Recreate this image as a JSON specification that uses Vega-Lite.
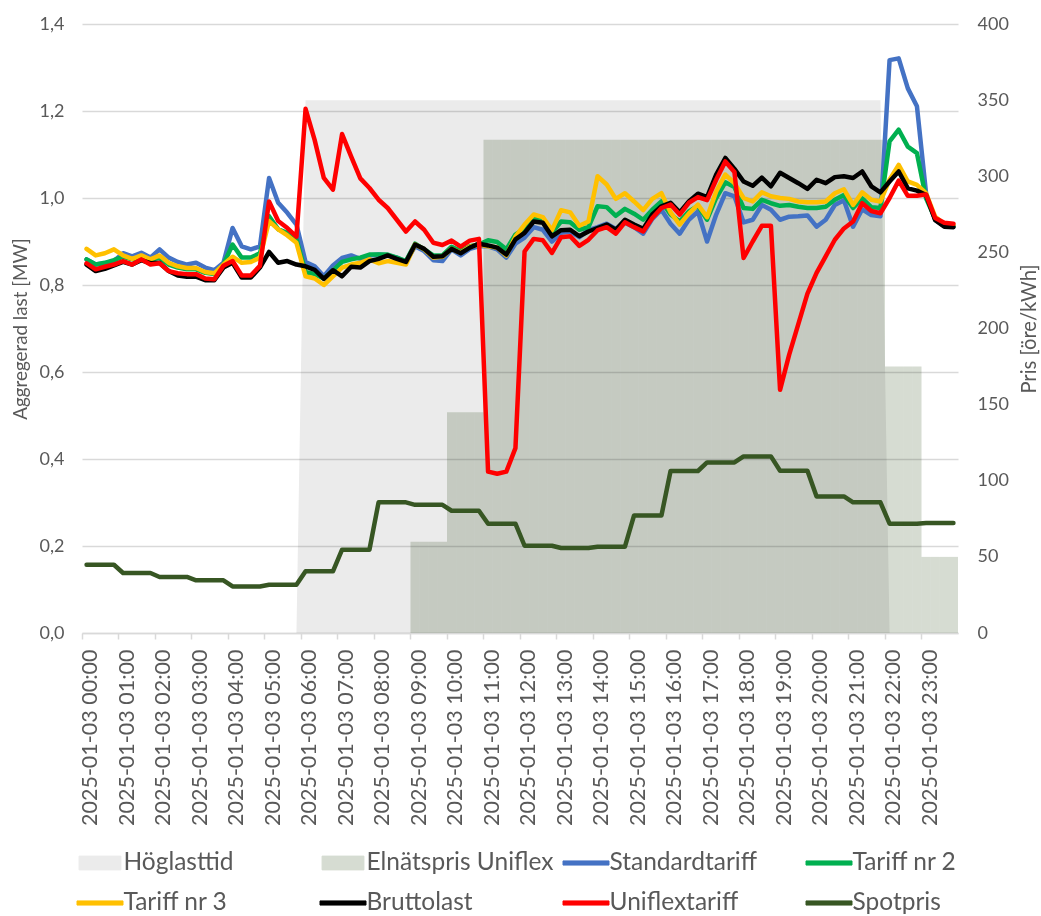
{
"$schema": "https://vega.github.io/schema/vega-lite/v6.json",
"width": 876, "height": 609,
"autosize": {"type": "none"},
"padding": {"left": 82, "top": 24, "right": 83, "bottom": 283},
"background": "#ffffff",
"config": {"font": "Lato", "view": {"stroke": null}},
"data": {"values": [
{"t":"00:00","Standardtariff":0.859,"Tariff nr 2":0.859,"Tariff nr 3":0.883,"Bruttolast":0.847,"Uniflextariff":0.850,"Höglasttid":0,"Elnätspris Uniflex":0,"Spotpris":44.8},
{"t":"00:15","Standardtariff":0.847,"Tariff nr 2":0.847,"Tariff nr 3":0.868,"Bruttolast":0.832,"Uniflextariff":0.836,"Höglasttid":0,"Elnätspris Uniflex":0,"Spotpris":44.8},
{"t":"00:30","Standardtariff":0.850,"Tariff nr 2":0.851,"Tariff nr 3":0.873,"Bruttolast":0.837,"Uniflextariff":0.842,"Höglasttid":0,"Elnätspris Uniflex":0,"Spotpris":44.8},
{"t":"00:45","Standardtariff":0.855,"Tariff nr 2":0.857,"Tariff nr 3":0.882,"Bruttolast":0.845,"Uniflextariff":0.847,"Höglasttid":0,"Elnätspris Uniflex":0,"Spotpris":44.8},
{"t":"01:00","Standardtariff":0.873,"Tariff nr 2":0.865,"Tariff nr 3":0.868,"Bruttolast":0.853,"Uniflextariff":0.855,"Höglasttid":0,"Elnätspris Uniflex":0,"Spotpris":39.4},
{"t":"01:15","Standardtariff":0.866,"Tariff nr 2":0.859,"Tariff nr 3":0.860,"Bruttolast":0.847,"Uniflextariff":0.847,"Höglasttid":0,"Elnätspris Uniflex":0,"Spotpris":39.4},
{"t":"01:30","Standardtariff":0.874,"Tariff nr 2":0.866,"Tariff nr 3":0.868,"Bruttolast":0.857,"Uniflextariff":0.859,"Höglasttid":0,"Elnätspris Uniflex":0,"Spotpris":39.4},
{"t":"01:45","Standardtariff":0.863,"Tariff nr 2":0.857,"Tariff nr 3":0.859,"Bruttolast":0.850,"Uniflextariff":0.847,"Höglasttid":0,"Elnätspris Uniflex":0,"Spotpris":39.4},
{"t":"02:00","Standardtariff":0.882,"Tariff nr 2":0.863,"Tariff nr 3":0.868,"Bruttolast":0.851,"Uniflextariff":0.850,"Höglasttid":0,"Elnätspris Uniflex":0,"Spotpris":36.8},
{"t":"02:15","Standardtariff":0.863,"Tariff nr 2":0.847,"Tariff nr 3":0.851,"Bruttolast":0.832,"Uniflextariff":0.832,"Höglasttid":0,"Elnätspris Uniflex":0,"Spotpris":36.8},
{"t":"02:30","Standardtariff":0.853,"Tariff nr 2":0.840,"Tariff nr 3":0.843,"Bruttolast":0.822,"Uniflextariff":0.827,"Höglasttid":0,"Elnätspris Uniflex":0,"Spotpris":36.8},
{"t":"02:45","Standardtariff":0.847,"Tariff nr 2":0.836,"Tariff nr 3":0.839,"Bruttolast":0.819,"Uniflextariff":0.825,"Höglasttid":0,"Elnätspris Uniflex":0,"Spotpris":36.8},
{"t":"03:00","Standardtariff":0.851,"Tariff nr 2":0.836,"Tariff nr 3":0.839,"Bruttolast":0.819,"Uniflextariff":0.825,"Höglasttid":0,"Elnätspris Uniflex":0,"Spotpris":34.6},
{"t":"03:15","Standardtariff":0.840,"Tariff nr 2":0.828,"Tariff nr 3":0.830,"Bruttolast":0.811,"Uniflextariff":0.815,"Höglasttid":0,"Elnätspris Uniflex":0,"Spotpris":34.6},
{"t":"03:30","Standardtariff":0.834,"Tariff nr 2":0.825,"Tariff nr 3":0.827,"Bruttolast":0.811,"Uniflextariff":0.813,"Höglasttid":0,"Elnätspris Uniflex":0,"Spotpris":34.6},
{"t":"03:45","Standardtariff":0.851,"Tariff nr 2":0.847,"Tariff nr 3":0.847,"Bruttolast":0.840,"Uniflextariff":0.844,"Höglasttid":0,"Elnätspris Uniflex":0,"Spotpris":34.6},
{"t":"04:00","Standardtariff":0.931,"Tariff nr 2":0.893,"Tariff nr 3":0.865,"Bruttolast":0.851,"Uniflextariff":0.855,"Höglasttid":0,"Elnätspris Uniflex":0,"Spotpris":30.6},
{"t":"04:15","Standardtariff":0.889,"Tariff nr 2":0.863,"Tariff nr 3":0.851,"Bruttolast":0.817,"Uniflextariff":0.822,"Höglasttid":0,"Elnätspris Uniflex":0,"Spotpris":30.6},
{"t":"04:30","Standardtariff":0.882,"Tariff nr 2":0.863,"Tariff nr 3":0.853,"Bruttolast":0.817,"Uniflextariff":0.822,"Höglasttid":0,"Elnätspris Uniflex":0,"Spotpris":30.6},
{"t":"04:45","Standardtariff":0.889,"Tariff nr 2":0.873,"Tariff nr 3":0.863,"Bruttolast":0.840,"Uniflextariff":0.844,"Höglasttid":0,"Elnätspris Uniflex":0,"Spotpris":30.6},
{"t":"05:00","Standardtariff":1.046,"Tariff nr 2":0.958,"Tariff nr 3":0.947,"Bruttolast":0.876,"Uniflextariff":0.992,"Höglasttid":0,"Elnätspris Uniflex":0,"Spotpris":31.7},
{"t":"05:15","Standardtariff":0.989,"Tariff nr 2":0.928,"Tariff nr 3":0.928,"Bruttolast":0.851,"Uniflextariff":0.947,"Höglasttid":0,"Elnätspris Uniflex":0,"Spotpris":31.7},
{"t":"05:30","Standardtariff":0.966,"Tariff nr 2":0.920,"Tariff nr 3":0.914,"Bruttolast":0.855,"Uniflextariff":0.931,"Höglasttid":0,"Elnätspris Uniflex":0,"Spotpris":31.7},
{"t":"05:45","Standardtariff":0.939,"Tariff nr 2":0.905,"Tariff nr 3":0.897,"Bruttolast":0.847,"Uniflextariff":0.911,"Höglasttid":0,"Elnätspris Uniflex":0,"Spotpris":31.7},
{"t":"06:00","Standardtariff":0.853,"Tariff nr 2":0.830,"Tariff nr 3":0.820,"Bruttolast":0.843,"Uniflextariff":1.205,"Höglasttid":350,"Elnätspris Uniflex":0,"Spotpris":40.5},
{"t":"06:15","Standardtariff":0.843,"Tariff nr 2":0.825,"Tariff nr 3":0.815,"Bruttolast":0.835,"Uniflextariff":1.133,"Höglasttid":350,"Elnätspris Uniflex":0,"Spotpris":40.5},
{"t":"06:30","Standardtariff":0.820,"Tariff nr 2":0.815,"Tariff nr 3":0.800,"Bruttolast":0.814,"Uniflextariff":1.046,"Höglasttid":350,"Elnätspris Uniflex":0,"Spotpris":40.5},
{"t":"06:45","Standardtariff":0.845,"Tariff nr 2":0.833,"Tariff nr 3":0.820,"Bruttolast":0.834,"Uniflextariff":1.019,"Höglasttid":350,"Elnätspris Uniflex":0,"Spotpris":40.5},
{"t":"07:00","Standardtariff":0.862,"Tariff nr 2":0.853,"Tariff nr 3":0.840,"Bruttolast":0.820,"Uniflextariff":1.147,"Höglasttid":350,"Elnätspris Uniflex":0,"Spotpris":54.7},
{"t":"07:15","Standardtariff":0.868,"Tariff nr 2":0.859,"Tariff nr 3":0.847,"Bruttolast":0.842,"Uniflextariff":1.095,"Höglasttid":350,"Elnätspris Uniflex":0,"Spotpris":54.7},
{"t":"07:30","Standardtariff":0.860,"Tariff nr 2":0.863,"Tariff nr 3":0.851,"Bruttolast":0.840,"Uniflextariff":1.045,"Höglasttid":350,"Elnätspris Uniflex":0,"Spotpris":54.7},
{"t":"07:45","Standardtariff":0.868,"Tariff nr 2":0.870,"Tariff nr 3":0.859,"Bruttolast":0.855,"Uniflextariff":1.023,"Höglasttid":350,"Elnätspris Uniflex":0,"Spotpris":54.7},
{"t":"08:00","Standardtariff":0.870,"Tariff nr 2":0.870,"Tariff nr 3":0.850,"Bruttolast":0.860,"Uniflextariff":0.996,"Höglasttid":350,"Elnätspris Uniflex":0,"Spotpris":85.8},
{"t":"08:15","Standardtariff":0.868,"Tariff nr 2":0.870,"Tariff nr 3":0.855,"Bruttolast":0.868,"Uniflextariff":0.977,"Höglasttid":350,"Elnätspris Uniflex":0,"Spotpris":85.8},
{"t":"08:30","Standardtariff":0.863,"Tariff nr 2":0.863,"Tariff nr 3":0.851,"Bruttolast":0.860,"Uniflextariff":0.950,"Höglasttid":350,"Elnätspris Uniflex":0,"Spotpris":85.8},
{"t":"08:45","Standardtariff":0.853,"Tariff nr 2":0.855,"Tariff nr 3":0.847,"Bruttolast":0.853,"Uniflextariff":0.923,"Höglasttid":350,"Elnätspris Uniflex":0,"Spotpris":85.8},
{"t":"09:00","Standardtariff":0.889,"Tariff nr 2":0.895,"Tariff nr 3":0.893,"Bruttolast":0.893,"Uniflextariff":0.946,"Höglasttid":350,"Elnätspris Uniflex":60,"Spotpris":84.2},
{"t":"09:15","Standardtariff":0.878,"Tariff nr 2":0.882,"Tariff nr 3":0.882,"Bruttolast":0.883,"Uniflextariff":0.927,"Höglasttid":350,"Elnätspris Uniflex":60,"Spotpris":84.2},
{"t":"09:30","Standardtariff":0.857,"Tariff nr 2":0.868,"Tariff nr 3":0.863,"Bruttolast":0.865,"Uniflextariff":0.897,"Höglasttid":350,"Elnätspris Uniflex":60,"Spotpris":84.2},
{"t":"09:45","Standardtariff":0.855,"Tariff nr 2":0.868,"Tariff nr 3":0.865,"Bruttolast":0.866,"Uniflextariff":0.892,"Höglasttid":350,"Elnätspris Uniflex":60,"Spotpris":84.2},
{"t":"10:00","Standardtariff":0.882,"Tariff nr 2":0.888,"Tariff nr 3":0.883,"Bruttolast":0.883,"Uniflextariff":0.902,"Höglasttid":350,"Elnätspris Uniflex":145,"Spotpris":80.3},
{"t":"10:15","Standardtariff":0.868,"Tariff nr 2":0.878,"Tariff nr 3":0.874,"Bruttolast":0.873,"Uniflextariff":0.888,"Höglasttid":350,"Elnätspris Uniflex":145,"Spotpris":80.3},
{"t":"10:30","Standardtariff":0.883,"Tariff nr 2":0.889,"Tariff nr 3":0.888,"Bruttolast":0.886,"Uniflextariff":0.902,"Höglasttid":350,"Elnätspris Uniflex":145,"Spotpris":80.3},
{"t":"10:45","Standardtariff":0.889,"Tariff nr 2":0.893,"Tariff nr 3":0.893,"Bruttolast":0.895,"Uniflextariff":0.906,"Höglasttid":350,"Elnätspris Uniflex":145,"Spotpris":80.3},
{"t":"11:00","Standardtariff":0.889,"Tariff nr 2":0.903,"Tariff nr 3":0.889,"Bruttolast":0.891,"Uniflextariff":0.371,"Höglasttid":350,"Elnätspris Uniflex":324,"Spotpris":71.8},
{"t":"11:15","Standardtariff":0.882,"Tariff nr 2":0.899,"Tariff nr 3":0.886,"Bruttolast":0.886,"Uniflextariff":0.366,"Höglasttid":350,"Elnätspris Uniflex":324,"Spotpris":71.8},
{"t":"11:30","Standardtariff":0.863,"Tariff nr 2":0.882,"Tariff nr 3":0.868,"Bruttolast":0.870,"Uniflextariff":0.371,"Höglasttid":350,"Elnätspris Uniflex":324,"Spotpris":71.8},
{"t":"11:45","Standardtariff":0.895,"Tariff nr 2":0.916,"Tariff nr 3":0.911,"Bruttolast":0.905,"Uniflextariff":0.425,"Höglasttid":350,"Elnätspris Uniflex":324,"Spotpris":71.8},
{"t":"12:00","Standardtariff":0.909,"Tariff nr 2":0.930,"Tariff nr 3":0.939,"Bruttolast":0.920,"Uniflextariff":0.877,"Höglasttid":350,"Elnätspris Uniflex":324,"Spotpris":57.3},
{"t":"12:15","Standardtariff":0.933,"Tariff nr 2":0.956,"Tariff nr 3":0.962,"Bruttolast":0.946,"Uniflextariff":0.906,"Höglasttid":350,"Elnätspris Uniflex":324,"Spotpris":57.3},
{"t":"12:30","Standardtariff":0.927,"Tariff nr 2":0.950,"Tariff nr 3":0.956,"Bruttolast":0.943,"Uniflextariff":0.903,"Höglasttid":350,"Elnätspris Uniflex":324,"Spotpris":57.3},
{"t":"12:45","Standardtariff":0.900,"Tariff nr 2":0.920,"Tariff nr 3":0.926,"Bruttolast":0.912,"Uniflextariff":0.874,"Höglasttid":350,"Elnätspris Uniflex":324,"Spotpris":57.3},
{"t":"13:00","Standardtariff":0.920,"Tariff nr 2":0.946,"Tariff nr 3":0.972,"Bruttolast":0.926,"Uniflextariff":0.910,"Höglasttid":350,"Elnätspris Uniflex":324,"Spotpris":55.8},
{"t":"13:15","Standardtariff":0.923,"Tariff nr 2":0.944,"Tariff nr 3":0.967,"Bruttolast":0.927,"Uniflextariff":0.912,"Höglasttid":350,"Elnätspris Uniflex":324,"Spotpris":55.8},
{"t":"13:30","Standardtariff":0.910,"Tariff nr 2":0.927,"Tariff nr 3":0.936,"Bruttolast":0.912,"Uniflextariff":0.890,"Höglasttid":350,"Elnätspris Uniflex":324,"Spotpris":55.8},
{"t":"13:45","Standardtariff":0.926,"Tariff nr 2":0.933,"Tariff nr 3":0.946,"Bruttolast":0.923,"Uniflextariff":0.904,"Höglasttid":350,"Elnätspris Uniflex":324,"Spotpris":55.8},
{"t":"14:00","Standardtariff":0.933,"Tariff nr 2":0.981,"Tariff nr 3":1.050,"Bruttolast":0.931,"Uniflextariff":0.926,"Höglasttid":350,"Elnätspris Uniflex":324,"Spotpris":56.7},
{"t":"14:15","Standardtariff":0.941,"Tariff nr 2":0.979,"Tariff nr 3":1.031,"Bruttolast":0.939,"Uniflextariff":0.933,"Höglasttid":350,"Elnätspris Uniflex":324,"Spotpris":56.7},
{"t":"14:30","Standardtariff":0.929,"Tariff nr 2":0.959,"Tariff nr 3":0.998,"Bruttolast":0.927,"Uniflextariff":0.918,"Höglasttid":350,"Elnätspris Uniflex":324,"Spotpris":56.7},
{"t":"14:45","Standardtariff":0.943,"Tariff nr 2":0.975,"Tariff nr 3":1.011,"Bruttolast":0.950,"Uniflextariff":0.944,"Höglasttid":350,"Elnätspris Uniflex":324,"Spotpris":56.7},
{"t":"15:00","Standardtariff":0.933,"Tariff nr 2":0.964,"Tariff nr 3":0.992,"Bruttolast":0.939,"Uniflextariff":0.933,"Höglasttid":350,"Elnätspris Uniflex":324,"Spotpris":77.2},
{"t":"15:15","Standardtariff":0.918,"Tariff nr 2":0.950,"Tariff nr 3":0.972,"Bruttolast":0.929,"Uniflextariff":0.923,"Höglasttid":350,"Elnätspris Uniflex":324,"Spotpris":77.2},
{"t":"15:30","Standardtariff":0.952,"Tariff nr 2":0.973,"Tariff nr 3":0.998,"Bruttolast":0.962,"Uniflextariff":0.954,"Höglasttid":350,"Elnätspris Uniflex":324,"Spotpris":77.2},
{"t":"15:45","Standardtariff":0.973,"Tariff nr 2":0.992,"Tariff nr 3":1.011,"Bruttolast":0.981,"Uniflextariff":0.977,"Höglasttid":350,"Elnätspris Uniflex":324,"Spotpris":77.2},
{"t":"16:00","Standardtariff":0.941,"Tariff nr 2":0.962,"Tariff nr 3":0.967,"Bruttolast":0.989,"Uniflextariff":0.985,"Höglasttid":350,"Elnätspris Uniflex":324,"Spotpris":106.4},
{"t":"16:15","Standardtariff":0.918,"Tariff nr 2":0.946,"Tariff nr 3":0.939,"Bruttolast":0.967,"Uniflextariff":0.962,"Höglasttid":350,"Elnätspris Uniflex":324,"Spotpris":106.4},
{"t":"16:30","Standardtariff":0.950,"Tariff nr 2":0.969,"Tariff nr 3":0.964,"Bruttolast":0.992,"Uniflextariff":0.989,"Höglasttid":350,"Elnätspris Uniflex":324,"Spotpris":106.4},
{"t":"16:45","Standardtariff":0.969,"Tariff nr 2":0.982,"Tariff nr 3":0.985,"Bruttolast":1.010,"Uniflextariff":1.002,"Höglasttid":350,"Elnätspris Uniflex":324,"Spotpris":106.4},
{"t":"17:00","Standardtariff":0.900,"Tariff nr 2":0.950,"Tariff nr 3":0.956,"Bruttolast":1.002,"Uniflextariff":0.995,"Höglasttid":350,"Elnätspris Uniflex":324,"Spotpris":112},
{"t":"17:15","Standardtariff":0.962,"Tariff nr 2":1.000,"Tariff nr 3":1.015,"Bruttolast":1.054,"Uniflextariff":1.042,"Höglasttid":350,"Elnätspris Uniflex":324,"Spotpris":112},
{"t":"17:30","Standardtariff":1.011,"Tariff nr 2":1.036,"Tariff nr 3":1.054,"Bruttolast":1.092,"Uniflextariff":1.084,"Höglasttid":350,"Elnätspris Uniflex":324,"Spotpris":112},
{"t":"17:45","Standardtariff":1.004,"Tariff nr 2":1.025,"Tariff nr 3":1.034,"Bruttolast":1.067,"Uniflextariff":1.060,"Höglasttid":350,"Elnätspris Uniflex":324,"Spotpris":112},
{"t":"18:00","Standardtariff":0.944,"Tariff nr 2":0.977,"Tariff nr 3":1.000,"Bruttolast":1.038,"Uniflextariff":0.862,"Höglasttid":350,"Elnätspris Uniflex":324,"Spotpris":116},
{"t":"18:15","Standardtariff":0.950,"Tariff nr 2":0.975,"Tariff nr 3":0.992,"Bruttolast":1.028,"Uniflextariff":0.900,"Höglasttid":350,"Elnätspris Uniflex":324,"Spotpris":116},
{"t":"18:30","Standardtariff":0.984,"Tariff nr 2":0.996,"Tariff nr 3":1.013,"Bruttolast":1.047,"Uniflextariff":0.936,"Höglasttid":350,"Elnätspris Uniflex":324,"Spotpris":116},
{"t":"18:45","Standardtariff":0.973,"Tariff nr 2":0.988,"Tariff nr 3":1.004,"Bruttolast":1.027,"Uniflextariff":0.936,"Höglasttid":350,"Elnätspris Uniflex":324,"Spotpris":116},
{"t":"19:00","Standardtariff":0.950,"Tariff nr 2":0.982,"Tariff nr 3":1.000,"Bruttolast":1.058,"Uniflextariff":0.559,"Höglasttid":350,"Elnätspris Uniflex":324,"Spotpris":106.6},
{"t":"19:15","Standardtariff":0.957,"Tariff nr 2":0.984,"Tariff nr 3":0.998,"Bruttolast":1.046,"Uniflextariff":0.640,"Höglasttid":350,"Elnätspris Uniflex":324,"Spotpris":106.6},
{"t":"19:30","Standardtariff":0.958,"Tariff nr 2":0.980,"Tariff nr 3":0.992,"Bruttolast":1.034,"Uniflextariff":0.710,"Höglasttid":350,"Elnätspris Uniflex":324,"Spotpris":106.6},
{"t":"19:45","Standardtariff":0.960,"Tariff nr 2":0.977,"Tariff nr 3":0.990,"Bruttolast":1.021,"Uniflextariff":0.780,"Höglasttid":350,"Elnätspris Uniflex":324,"Spotpris":106.6},
{"t":"20:00","Standardtariff":0.934,"Tariff nr 2":0.977,"Tariff nr 3":0.990,"Bruttolast":1.042,"Uniflextariff":0.828,"Höglasttid":350,"Elnätspris Uniflex":324,"Spotpris":89.7},
{"t":"20:15","Standardtariff":0.950,"Tariff nr 2":0.980,"Tariff nr 3":0.992,"Bruttolast":1.034,"Uniflextariff":0.866,"Höglasttid":350,"Elnätspris Uniflex":324,"Spotpris":89.7},
{"t":"20:30","Standardtariff":0.984,"Tariff nr 2":0.996,"Tariff nr 3":1.011,"Bruttolast":1.048,"Uniflextariff":0.904,"Höglasttid":350,"Elnätspris Uniflex":324,"Spotpris":89.7},
{"t":"20:45","Standardtariff":0.995,"Tariff nr 2":1.007,"Tariff nr 3":1.020,"Bruttolast":1.050,"Uniflextariff":0.930,"Höglasttid":350,"Elnätspris Uniflex":324,"Spotpris":89.7},
{"t":"21:00","Standardtariff":0.934,"Tariff nr 2":0.977,"Tariff nr 3":0.984,"Bruttolast":1.046,"Uniflextariff":0.946,"Höglasttid":350,"Elnätspris Uniflex":324,"Spotpris":85.8},
{"t":"21:15","Standardtariff":0.974,"Tariff nr 2":0.999,"Tariff nr 3":1.013,"Bruttolast":1.061,"Uniflextariff":0.988,"Höglasttid":350,"Elnätspris Uniflex":324,"Spotpris":85.8},
{"t":"21:30","Standardtariff":0.961,"Tariff nr 2":0.979,"Tariff nr 3":0.996,"Bruttolast":1.027,"Uniflextariff":0.970,"Höglasttid":350,"Elnätspris Uniflex":324,"Spotpris":85.8},
{"t":"21:45","Standardtariff":0.958,"Tariff nr 2":0.977,"Tariff nr 3":0.992,"Bruttolast":1.013,"Uniflextariff":0.965,"Höglasttid":350,"Elnätspris Uniflex":324,"Spotpris":85.8},
{"t":"22:00","Standardtariff":1.317,"Tariff nr 2":1.130,"Tariff nr 3":1.042,"Bruttolast":1.038,"Uniflextariff":1.000,"Höglasttid":0,"Elnätspris Uniflex":175,"Spotpris":71.8},
{"t":"22:15","Standardtariff":1.321,"Tariff nr 2":1.157,"Tariff nr 3":1.076,"Bruttolast":1.061,"Uniflextariff":1.040,"Höglasttid":0,"Elnätspris Uniflex":175,"Spotpris":71.8},
{"t":"22:30","Standardtariff":1.252,"Tariff nr 2":1.118,"Tariff nr 3":1.038,"Bruttolast":1.022,"Uniflextariff":1.005,"Höglasttid":0,"Elnätspris Uniflex":175,"Spotpris":71.8},
{"t":"22:45","Standardtariff":1.211,"Tariff nr 2":1.103,"Tariff nr 3":1.030,"Bruttolast":1.017,"Uniflextariff":1.005,"Höglasttid":0,"Elnätspris Uniflex":175,"Spotpris":71.8},
{"t":"23:00","Standardtariff":1.011,"Tariff nr 2":0.999,"Tariff nr 3":1.011,"Bruttolast":1.007,"Uniflextariff":1.008,"Höglasttid":0,"Elnätspris Uniflex":50,"Spotpris":72.2},
{"t":"23:15","Standardtariff":0.950,"Tariff nr 2":0.952,"Tariff nr 3":0.957,"Bruttolast":0.949,"Uniflextariff":0.954,"Höglasttid":0,"Elnätspris Uniflex":50,"Spotpris":72.2},
{"t":"23:30","Standardtariff":0.935,"Tariff nr 2":0.936,"Tariff nr 3":0.940,"Bruttolast":0.934,"Uniflextariff":0.943,"Höglasttid":0,"Elnätspris Uniflex":50,"Spotpris":72.2},
{"t":"23:45","Standardtariff":0.934,"Tariff nr 2":0.935,"Tariff nr 3":0.938,"Bruttolast":0.933,"Uniflextariff":0.941,"Höglasttid":0,"Elnätspris Uniflex":50,"Spotpris":72.2}
]},
"encoding": {
  "x": {"field": "t", "type": "ordinal",
    "scale": {"type": "band", "paddingInner": 0, "paddingOuter": 0},
    "axis": {"values": ["00:00","01:00","02:00","03:00","04:00","05:00","06:00","07:00","08:00","09:00","10:00","11:00","12:00","13:00","14:00","15:00","16:00","17:00","18:00","19:00","20:00","21:00","22:00","23:00"],
      "labelExpr": "'2025-01-03 ' + datum.label", "labelAngle": -90, "labelAlign": "right", "labelBaseline": "middle",
      "bandPosition": 0, "labelOffset": 4.56, "tickSize": 6, "tickColor": "#d9d9d9", "tickWidth": 1.5,
      "domainColor": "#d9d9d9", "domainWidth": 1.5, "labelFontSize": 21.5, "labelColor": "#595959", "labelPadding": 10,
      "labelLimit": 400, "labelOverlap": false, "labelBound": false, "labelFlush": false, "grid": false, "title": null}},
  "color": {"field": "key", "type": "nominal",
    "scale": {"domain": ["Höglasttid","Elnätspris Uniflex","Standardtariff","Tariff nr 2","Tariff nr 3","Bruttolast","Uniflextariff","Spotpris"],
              "range": ["#ebebeb","#d6dcd2","#4472c4","#00b050","#ffc000","#000000","#ff0000","#375623"]},
    "legend": {"orient": "none", "legendX": -5.5, "legendY": 815.5, "direction": "horizontal", "columns": 4, "gridAlign": "all", "columnPadding": 7, "rowPadding": 5,
      "symbolSize": 2116, "symbolStrokeWidth": 1, "labelFontSize": 24.5, "labelColor": "#595959", "labelOffset": 0,
      "labelLimit": 400, "title": null, "padding": 0,
      "encode": {"symbols": {"update": {
        "shape": {"signal": "datum.value === 'Höglasttid' || datum.value === 'Elnätspris Uniflex' ? 'M-0.91,-0.3L0.91,-0.3L0.91,0.3L-0.91,0.3Z' : 'M-1,-0.09L1,-0.09L1,0.09L-1,0.09Z'"},
        "fill": {"scale": "color", "field": "value"},
        "fillOpacity": {"value": 1}, "opacity": {"value": 1}}}}}}
},
"layer": [
  {"encoding": {"y": {"field": "value", "type": "quantitative", "stack": null,
      "scale": {"domain": [0, 400], "nice": false},
      "axis": {"orient": "right", "values": [0,50,100,150,200,250,300,350,400], "domain": false, "ticks": false, "grid": false,
        "labelPadding": 19, "labelFontSize": 18, "labelColor": "#595959",
        "title": "Pris [öre/kWh]", "titleAngle": 270, "titleX": 71, "titleBaseline": "middle", "titleAlign": "center",
        "titleFontSize": 20.2, "titleFontWeight": "normal", "titleColor": "#595959"}}},
   "layer": [
     {"transform": [{"fold": ["Höglasttid"]}], "mark": {"type": "area", "blend": "multiply"}},
     {"transform": [{"fold": ["Elnätspris Uniflex"]}], "mark": {"type": "bar", "blend": "multiply"}},
     {"transform": [{"fold": ["Spotpris"]}], "mark": {"type": "line", "strokeWidth": 4.5, "strokeJoin": "round", "strokeCap": "round"}}
   ]},
  {"transform": [{"fold": ["Standardtariff","Tariff nr 2","Tariff nr 3","Bruttolast","Uniflextariff"]}],
   "mark": {"type": "line", "strokeWidth": 4.5, "strokeJoin": "round", "strokeCap": "round"},
   "encoding": {
    "y": {"field": "value", "type": "quantitative",
      "scale": {"domain": [0, 1.4], "nice": false},
      "axis": {"values": [0,0.2,0.4,0.6,0.8,1.0,1.2,1.4], "labelExpr": "replace(format(datum.value, '.1f'), '.', ',')",
        "grid": true, "gridColor": "#d9d9d9", "gridWidth": 1.5, "domain": false, "ticks": false,
        "labelPadding": 18, "labelFontSize": 18, "labelColor": "#595959",
        "title": "Aggregerad last [MW]", "titleX": -62, "titleAngle": 270, "titleBaseline": "middle", "titleAlign": "center",
        "titleFontSize": 18.8, "titleFontWeight": "normal", "titleColor": "#595959"}}}}
],
"resolve": {"scale": {"y": "independent"}}
}
